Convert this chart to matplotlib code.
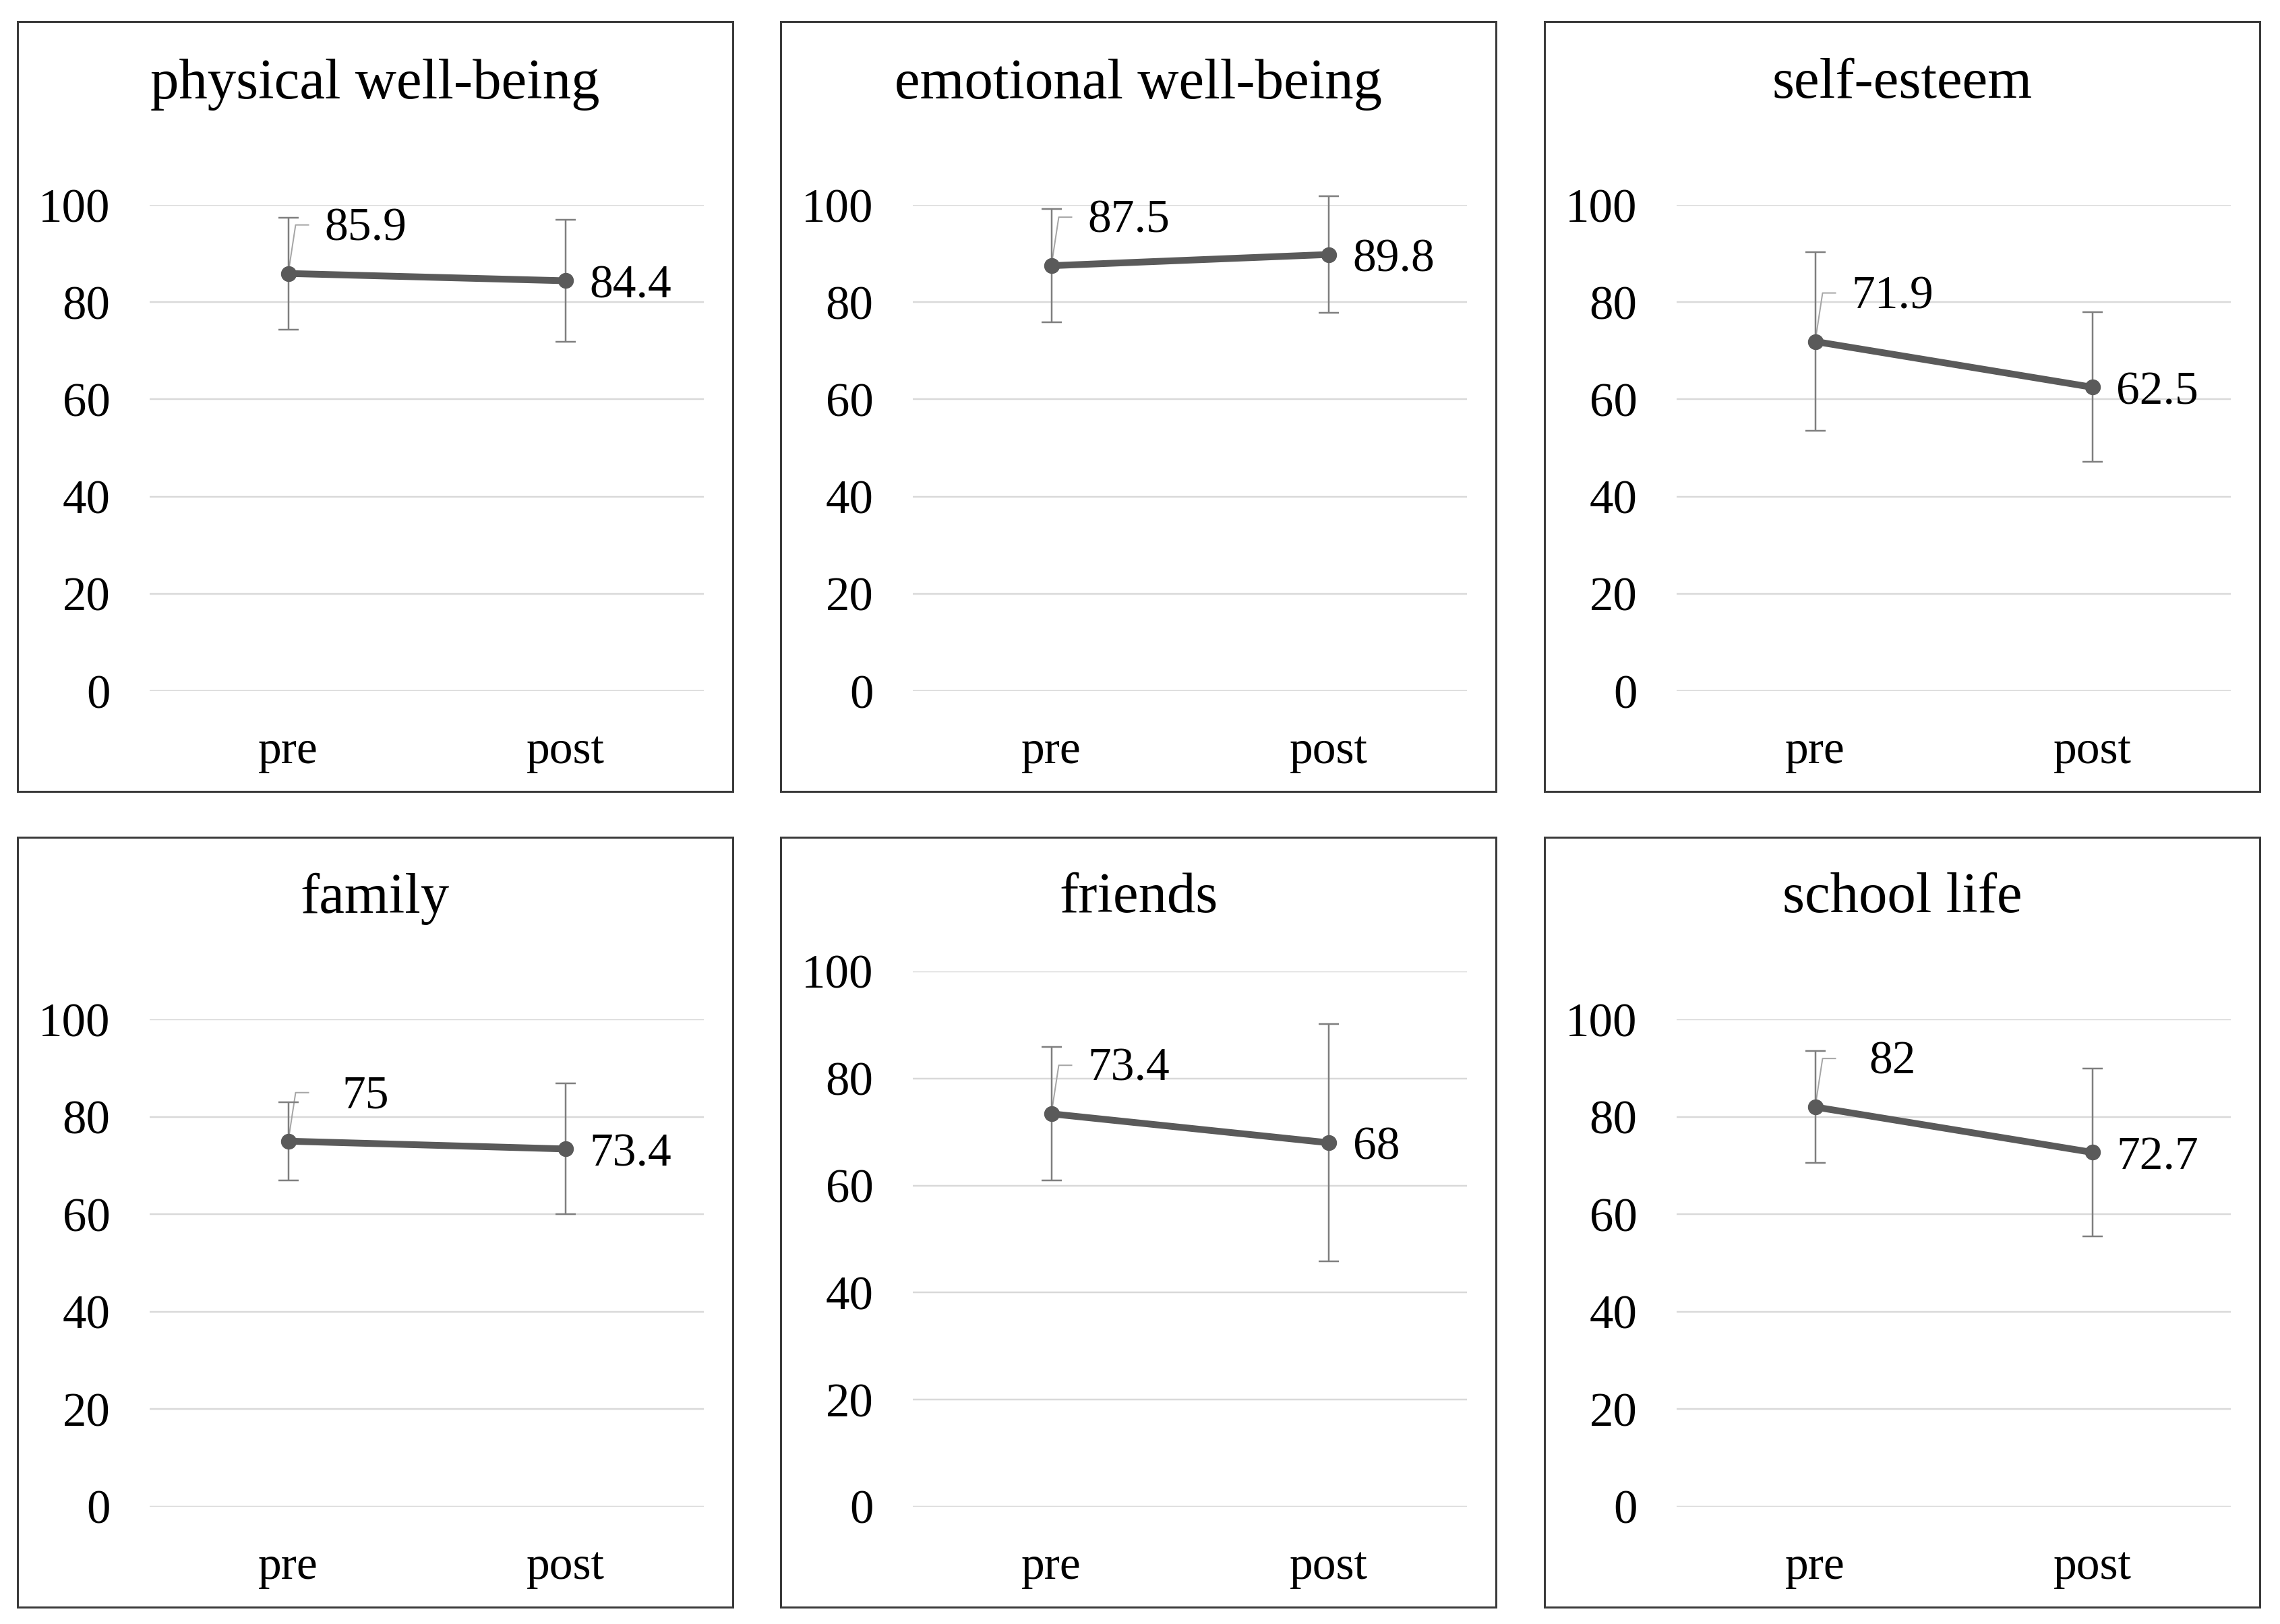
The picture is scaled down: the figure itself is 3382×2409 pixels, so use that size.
# quality_of_life_panels.py | Pre/post subscale means with SD error bars
# ------------------------------------------------------------------------------
# Six small panels (2 x 3), each one a pre -> post line with error bars.

import numpy as np
import matplotlib
matplotlib.use("Agg")
import matplotlib.pyplot as plt
from matplotlib.patches import Rectangle

# -----------------------------------------------------------------------------#
# 0  Data
# -----------------------------------------------------------------------------#
titles = ["physical well-being", "emotional well-being", "self-esteem",
          "family", "friends", "school life"]
time_points = ["pre", "post"]
pre_mean = [85.9, 87.5, 71.9, 75.0, 73.4, 82.0]
post_mean = [84.4, 89.8, 62.5, 73.4, 68.0, 72.7]
pre_sd = [11.5, 11.6, 18.4, 8.0, 12.5, 11.5]
post_sd = [12.6, 12.0, 15.4, 13.4, 22.2, 17.2]
y_ticks = [0, 20, 40, 60, 80, 100]

# -----------------------------------------------------------------------------#
# 1  Figure geometry (pixels of the 3382 x 2409 output)
# -----------------------------------------------------------------------------#
W, H, DPI = 3382, 2409, 100
PX = 72.0 / DPI  # points per pixel

panel_left = [26, 1158, 2291]
panel_top = [32, 1242]
panel_w, panel_h = 1061, 1142
grid_dx, grid_w = 196, 822
axis_top = {0: 304, 1: 1512}
axis_bottom = {0: 1025, 1: 2235}
friends_top = 1441
title_y = {0: 125, 1: 1333}

LINE_COL = "#5a5a5a"
ERR_COL = "#7f7f7f"
GRID_COL = "#d9d9d9"
LEADER_COL = "#a6a6a6"

plt.rcParams["font.family"] = ["Liberation Serif", "DejaVu Serif"]

fig = plt.figure(figsize=(W / DPI, H / DPI), dpi=DPI)
fig.patch.set_facecolor("white")


def px_offset(ax, x, y, dx, dy):
    """Data point shifted by (dx, dy) display pixels, back in data coords."""
    disp = ax.transData.transform((x, y)) + np.array([dx, dy])
    return ax.transData.inverted().transform(disp)


# -----------------------------------------------------------------------------#
# 2  Panels
# -----------------------------------------------------------------------------#
for i, title in enumerate(titles):
    row, col = divmod(i, 3)
    left_px = panel_left[col]
    top_px = friends_top if title == "friends" else axis_top[row]
    bot_px = axis_bottom[row]

    # panel frame
    fig.patches.append(Rectangle(
        (left_px / W, 1 - (panel_top[row] + panel_h) / H),
        panel_w / W, panel_h / H, transform=fig.transFigure,
        fill=False, edgecolor="#3a3a3a", linewidth=3 * PX))

    ax = fig.add_axes([(left_px + grid_dx) / W, 1 - bot_px / H,
                       grid_w / W, (bot_px - top_px) / H])
    ax.set_xlim(-0.5, 1.5)
    ax.set_ylim(0, 100)
    ax.set_yticks(y_ticks)
    ax.set_xticks([0, 1])
    ax.set_xticklabels(time_points)
    for s in ax.spines.values():
        s.set_visible(False)
    ax.tick_params(axis="y", length=0, pad=42, labelsize=51)
    ax.tick_params(axis="x", length=0, pad=42, labelsize=50)
    ax.yaxis.grid(True, color=GRID_COL, linewidth=2.5 * PX)
    ax.set_axisbelow(True)

    means = [pre_mean[i], post_mean[i]]
    sds = [pre_sd[i], post_sd[i]]

    ax.errorbar([0, 1], means, yerr=sds, fmt="none", ecolor=ERR_COL,
                elinewidth=2.5 * PX, capsize=15 * PX, capthick=2.5 * PX,
                clip_on=False, zorder=3)
    ax.plot([0, 1], means, color=LINE_COL, linewidth=10 * PX, marker="o",
            markersize=22 * PX, clip_on=False, zorder=4)

    # pre label with Excel-like leader line
    pts = np.array([px_offset(ax, 0, means[0], 0, 0),
                    px_offset(ax, 0, means[0], 11, 72),
                    px_offset(ax, 0, means[0], 30, 72)])
    ax.plot(pts[:, 0], pts[:, 1], color=LEADER_COL, linewidth=2 * PX,
            clip_on=False, zorder=2)
    ax.annotate(f"{means[0]:g}", xy=(0, means[0]), xytext=(115 * PX, 66 * PX),
                textcoords="offset points", ha="center", va="center",
                fontsize=50, color="black")
    # post label, right of the point
    ax.annotate(f"{means[1]:g}", xy=(1, means[1]), xytext=(36 * PX, -8 * PX),
                textcoords="offset points", ha="left", va="center",
                fontsize=50, color="black")

    fig.text((left_px + panel_w / 2) / W, 1 - title_y[row] / H, title,
             ha="center", va="center", fontsize=61)

fig.savefig("out.png", dpi=DPI, facecolor="white")
